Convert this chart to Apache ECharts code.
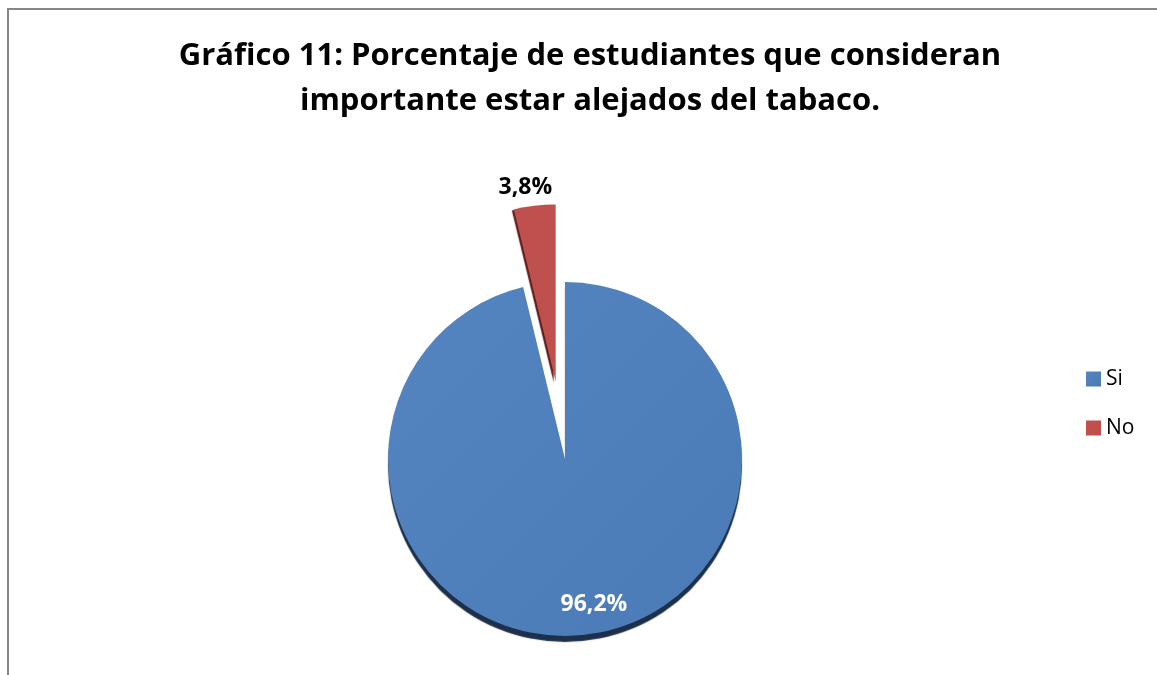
<!DOCTYPE html>
<html>
<head>
<meta charset="utf-8">
<script src="https://cdn.jsdelivr.net/npm/echarts@6/dist/echarts.min.js"></script>
<style>
html,body{margin:0;padding:0;background:#fff;}
#chart{width:1157px;height:675px;}
</style>
</head>
<body>
<div id="chart"></div>
<script>
const titleText = 'Gráfico 11: Porcentaje de estudiantes que consideran\nimportante estar alejados del tabaco.';
const categories = ['Si', 'No'];
const values = [96.2, 3.8];
const labels = ['96,2%', '3,8%'];
const colors = ['#4F81BD', '#C0504D'];

const chart = echarts.init(document.getElementById('chart'));
const data = categories.map((c, i) => ({
  name: c,
  value: values[i],
  selected: i === 1,
  itemStyle: {
    color: i === 0
      ? new echarts.graphic.LinearGradient(0, 0, 1, 1, [{offset: 0, color: '#5585c0'}, {offset: 1, color: '#4a7bb6'}])
      : colors[i],
    shadowColor: i === 0 ? '#1c304c' : '#5a1d1b',
    shadowBlur: 1,
    shadowOffsetX: i === 0 ? 0 : -2,
    shadowOffsetY: i === 0 ? 6 : 1
  },
  label: i === 0
    ? {position: 'inside', color: '#fff'}
    : {position: 'outside', color: '#000'}
}));

chart.setOption({
  backgroundColor: '#fff',
  color: colors,
  title: {
    text: titleText,
    left: 585,
    top: 29,
    textAlign: 'center',
    textStyle: {fontFamily: 'Open Sans', fontWeight: 'bold', fontSize: 31, lineHeight: 45, color: '#000'}
  },
  legend: {
    orient: 'vertical',
    left: 1081,
    top: 363,
    icon: 'rect',
    itemWidth: 15,
    itemHeight: 15,
    itemGap: 27,
    data: categories,
    textStyle: {fontFamily: 'Open Sans', fontSize: 21, lineHeight: 22, color: '#000'}
  },
  graphic: [{
    type: 'rect',
    shape: {x: 8, y: 9, width: 1300, height: 800},
    style: {fill: 'none', stroke: '#878787', lineWidth: 2},
    silent: true
  }],
  series: [{
    type: 'pie',
    center: [565, 459],
    radius: 177,
    startAngle: 90,
    clockwise: true,
    selectedMode: 'single',
    selectedOffset: 78,
    animation: false,
    data: data,
    label: {
      show: true,
      formatter: p => labels[p.dataIndex],
      fontFamily: 'Open Sans',
      fontWeight: 'bold',
      fontSize: 23
    },
    labelLine: {show: false, length: 4, length2: 0},
    labelLayout: function (p) {
      if (p.dataIndex === 0) return {dx: 18, dy: 55};
      return {dx: 23, dy: -14};
    },
    emphasis: {disabled: true}
  }]
});
</script>
</body>
</html>
